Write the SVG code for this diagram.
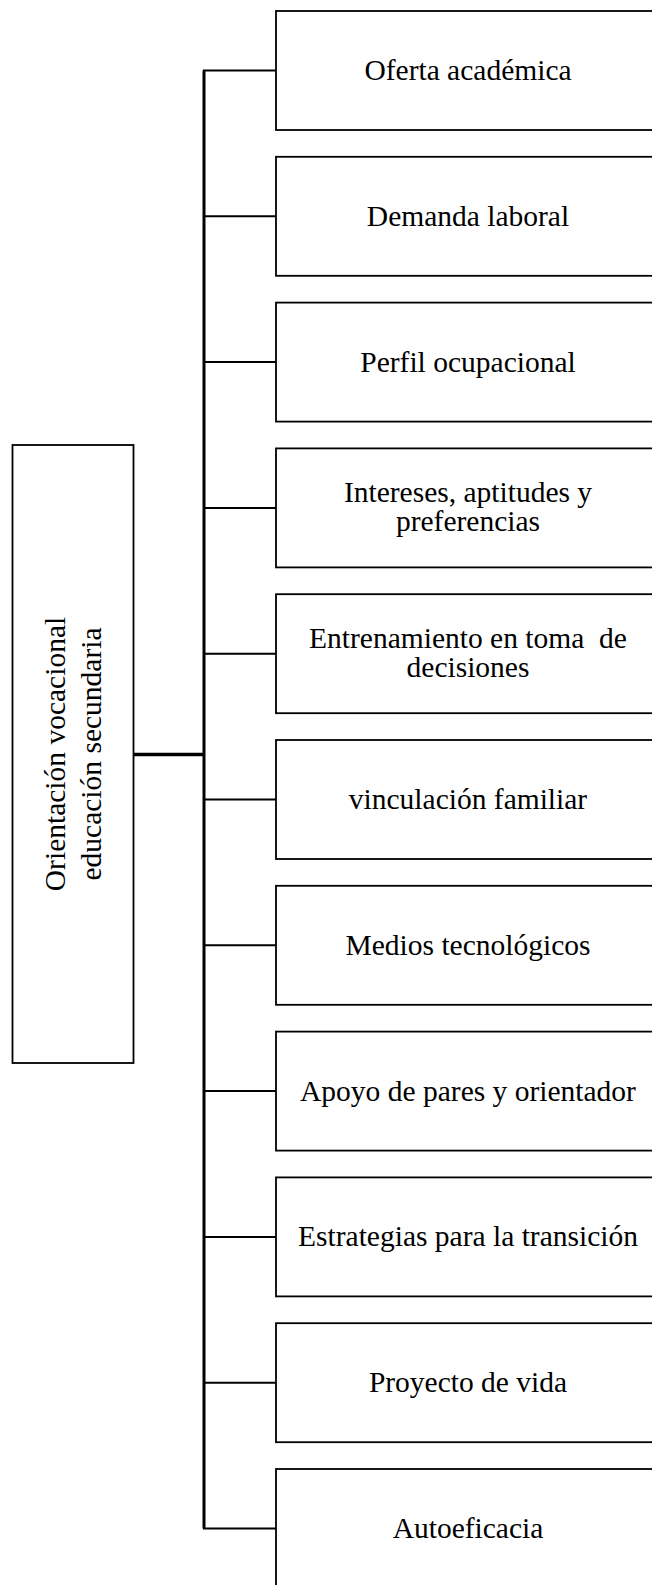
<svg xmlns="http://www.w3.org/2000/svg" width="652" height="1585" viewBox="0 0 652 1585">
<style>
.box{fill:#fff;stroke:#000;stroke-width:1.8}
.t{font-family:"Liberation Serif","Times New Roman",serif;font-size:29.5px;fill:#000;text-anchor:middle;white-space:pre}
.c{fill:none;stroke:#000;stroke-width:2}
</style>
<rect width="652" height="1585" fill="#fff"/>
<g id="connectors">
<line class="c" x1="204" y1="70.5" x2="204" y2="1528.5" style="stroke-width:3"/>
<line class="c" x1="132" y1="754.5" x2="205" y2="754.5" style="stroke-width:3.5"/>
<line class="c" x1="203" y1="70.5" x2="276" y2="70.5"/>
<line class="c" x1="203" y1="216.3" x2="276" y2="216.3"/>
<line class="c" x1="203" y1="362.1" x2="276" y2="362.1"/>
<line class="c" x1="203" y1="507.9" x2="276" y2="507.9"/>
<line class="c" x1="203" y1="653.7" x2="276" y2="653.7"/>
<line class="c" x1="203" y1="799.5" x2="276" y2="799.5"/>
<line class="c" x1="203" y1="945.3" x2="276" y2="945.3"/>
<line class="c" x1="203" y1="1091.1" x2="276" y2="1091.1"/>
<line class="c" x1="203" y1="1236.9" x2="276" y2="1236.9"/>
<line class="c" x1="203" y1="1382.7" x2="276" y2="1382.7"/>
<line class="c" x1="203" y1="1528.5" x2="276" y2="1528.5"/>
</g>
<g id="root">
<rect class="box" x="12.5" y="445" width="121" height="618"/>
<text class="t" transform="translate(65 754) rotate(-90)" x="0" y="0">Orientación vocacional</text>
<text class="t" transform="translate(101 754) rotate(-90)" x="0" y="0">educación secundaria</text>
</g>
<g id="n1"><rect class="box" x="276" y="11" width="400" height="119"/><text class="t" x="468" y="80">Oferta académica</text></g>
<g id="n2"><rect class="box" x="276" y="156.8" width="400" height="119"/><text class="t" x="468" y="225.8">Demanda laboral</text></g>
<g id="n3"><rect class="box" x="276" y="302.6" width="400" height="119"/><text class="t" x="468" y="371.6">Perfil ocupacional</text></g>
<g id="n4"><rect class="box" x="276" y="448.4" width="400" height="119"/><text class="t" x="468" y="502.3">Intereses, aptitudes y</text><text class="t" x="468" y="531">preferencias</text></g>
<g id="n5"><rect class="box" x="276" y="594.2" width="400" height="119"/><text class="t" x="468" y="648.1" xml:space="preserve">Entrenamiento en toma  de</text><text class="t" x="468" y="676.8">decisiones</text></g>
<g id="n6"><rect class="box" x="276" y="740" width="400" height="119"/><text class="t" x="468" y="809">vinculación familiar</text></g>
<g id="n7"><rect class="box" x="276" y="885.8" width="400" height="119"/><text class="t" x="468" y="954.8">Medios tecnológicos</text></g>
<g id="n8"><rect class="box" x="276" y="1031.6" width="400" height="119"/><text class="t" x="468" y="1100.6">Apoyo de pares y orientador</text></g>
<g id="n9"><rect class="box" x="276" y="1177.4" width="400" height="119"/><text class="t" x="468" y="1246.4">Estrategias para la transición</text></g>
<g id="n10"><rect class="box" x="276" y="1323.2" width="400" height="119"/><text class="t" x="468" y="1392.2">Proyecto de vida</text></g>
<g id="n11"><rect class="box" x="276" y="1469" width="400" height="119"/><text class="t" x="468" y="1538">Autoeficacia</text></g>
</svg>
